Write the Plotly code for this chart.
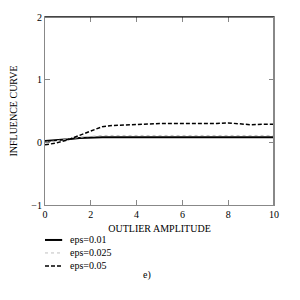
import plotly.graph_objects as go

x_vals = [0, 0.5, 1, 1.5, 2, 2.5, 3, 3.5, 4, 4.5, 5, 5.5, 6, 6.5, 7, 7.5, 8, 8.5, 9, 9.5, 10]
eps_001 = [0.02, 0.03, 0.05, 0.07, 0.08, 0.08, 0.08, 0.08, 0.08, 0.085, 0.08, 0.08, 0.08, 0.08, 0.085, 0.08, 0.085, 0.08, 0.08, 0.08, 0.08]
eps_0025 = [0.0, 0.02, 0.05, 0.08, 0.10, 0.11, 0.11, 0.11, 0.11, 0.11, 0.11, 0.11, 0.11, 0.11, 0.12, 0.11, 0.11, 0.11, 0.11, 0.11, 0.11]
eps_005 = [-0.04, -0.01, 0.04, 0.11, 0.19, 0.25, 0.27, 0.28, 0.29, 0.29, 0.30, 0.30, 0.30, 0.30, 0.29, 0.30, 0.31, 0.29, 0.28, 0.29, 0.29]
series_names = ["eps=0.01", "eps=0.025", "eps=0.05"]
x_ticks = [0, 2, 4, 6, 8, 10]
y_ticks = [-1, 0, 1, 2]

font = "Liberation Serif"
styles = [dict(color="black", width=2),
          dict(color="#c0c0c0", width=1, dash="dot"),
          dict(color="black", width=1.5, dash="4px,2px")]

fig = go.Figure()
for name, ys, st in zip(series_names, [eps_001, eps_0025, eps_005], styles):
    fig.add_trace(go.Scatter(x=x_vals, y=ys, mode="lines", name=name, line=st))

fig.update_layout(
    width=292, height=292,
    margin=dict(l=37, r=26, t=9, b=95, autoexpand=False),
    paper_bgcolor="white", plot_bgcolor="white",
    font=dict(family=font, size=10, color="black"),
    showlegend=False,
    xaxis=dict(range=[0, 10], tickvals=x_ticks, ticks="inside", ticklen=5,
               tickcolor="#888888", showgrid=False, zeroline=False, automargin=False,
               showline=True, linecolor="#888888", linewidth=1, mirror="ticks",
               title=dict(text="OUTLIER AMPLITUDE", font=dict(family=font, size=10), standoff=5),
               tickfont=dict(family=font, size=10)),
    yaxis=dict(range=[-1, 2], tickvals=y_ticks, ticks="inside", ticklen=5,
               tickcolor="#888888", showgrid=False, zeroline=False, automargin=False,
               showline=True, linecolor="#888888", linewidth=1, mirror="ticks",
               title=dict(text="INFLUENCE CURVE", font=dict(family=font, size=10), standoff=14),
               tickfont=dict(family=font, size=10)),
)
# top border drawn black, right border thicker
fig.add_shape(type="line", xref="paper", yref="paper", x0=0, x1=1, y0=1, y1=1,
              line=dict(color="black", width=1.2))
fig.add_shape(type="line", xref="paper", yref="paper", x0=1, x1=1, y0=0, y1=1,
              line=dict(color="#888888", width=2))

# manual legend below the plot
leg_y = [-0.186, -0.255, -0.324]
for name, st, ly in zip(series_names, styles, leg_y):
    fig.add_shape(type="line", xref="paper", yref="paper", x0=0, x1=0.075, y0=ly, y1=ly,
                  line=st)
    fig.add_annotation(text=name, xref="paper", yref="paper", x=0.1, y=ly,
                       xanchor="left", yanchor="middle", showarrow=False,
                       font=dict(family=font, size=10))

fig.add_annotation(text="e)", xref="paper", yref="paper", x=0.445, y=-0.415,
                   showarrow=False, font=dict(family=font, size=10))
fig.write_html("out.html")
